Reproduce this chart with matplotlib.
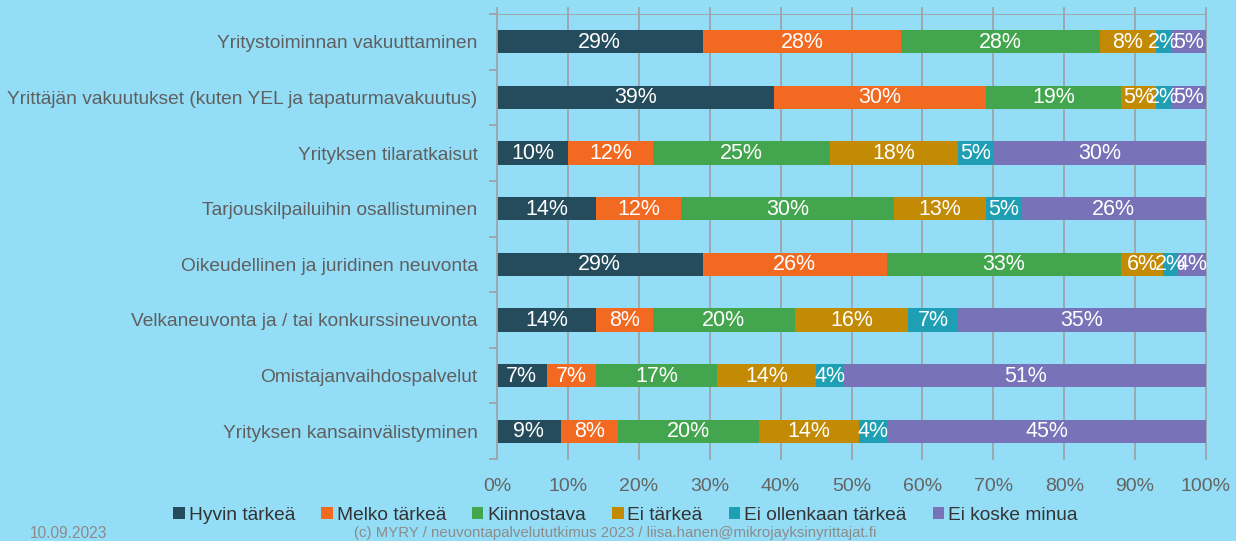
import matplotlib
matplotlib.use("Agg")
import matplotlib.pyplot as plt
import matplotlib.transforms as mtransforms
from matplotlib.patches import Patch
import numpy as np

categories = [
    "Yritystoiminnan vakuuttaminen",
    "Yrittäjän vakuutukset (kuten YEL ja tapaturmavakuutus)",
    "Yrityksen tilaratkaisut",
    "Tarjouskilpailuihin osallistuminen",
    "Oikeudellinen ja juridinen neuvonta",
    "Velkaneuvonta ja / tai konkurssineuvonta",
    "Omistajanvaihdospalvelut",
    "Yrityksen kansainvälistyminen",
]
series_names = ["Hyvin tärkeä", "Melko tärkeä", "Kiinnostava", "Ei tärkeä",
                "Ei ollenkaan tärkeä", "Ei koske minua"]
hyvin = [29, 39, 10, 14, 29, 14, 7, 9]
melko = [28, 30, 12, 12, 26, 8, 7, 8]
kiinnostava = [28, 19, 25, 30, 33, 20, 17, 20]
ei_tarkea = [8, 5, 18, 13, 6, 16, 14, 14]
ei_ollenkaan = [2, 2, 5, 5, 2, 7, 4, 4]
ei_koske = [5, 5, 30, 26, 4, 35, 51, 45]
series = [hyvin, melko, kiinnostava, ei_tarkea, ei_ollenkaan, ei_koske]
xticks = [0, 10, 20, 30, 40, 50, 60, 70, 80, 90, 100]
xticklabels = ["0%", "10%", "20%", "30%", "40%", "50%", "60%", "70%", "80%", "90%", "100%"]

colors = ["#244C5C", "#F26A22", "#43A64F", "#C38A04", "#1E9FB3", "#7872B8"]
bg = "#94DDF6"
grid_c = "#A0A4A8"
font = ["Liberation Sans", "DejaVu Sans"]

fig = plt.figure(figsize=(12.36, 5.41), dpi=100, facecolor=bg)
ax = fig.add_axes([497/1236, 1-459/541, (1206-497)/1236, (459-14)/541])
ax.set_facecolor(bg)

n = len(categories)
y = np.arange(n)
ax.set_ylim(n - 0.5, -0.5)
ax.set_xlim(0, 100)

left = np.zeros(n)
for vals, c in zip(series, colors):
    vals = np.array(vals, dtype=float)
    ax.barh(y, vals, left=left, height=0.42, color=c, zorder=3)
    for yi, (l, v) in enumerate(zip(left, vals)):
        ax.text(l + v/2, yi + 0.01, f"{int(v)}%", ha="center", va="center",
                color="white", fontsize=15.5, family=font, zorder=4)
    left += vals

# gridlines extending slightly above the plot
trans = mtransforms.blended_transform_factory(ax.transData, ax.transAxes)
ext = 6 / 445
for xv in xticks[1:]:
    ax.plot([xv, xv], [0, 1 + ext], transform=trans, color=grid_c, lw=1.3,
            zorder=1, clip_on=False)
ax.plot([0, 0], [-0.0, 1 + ext], transform=trans, color=grid_c, lw=1.3,
        zorder=5, clip_on=False)
ax.axhline(-0.5, color=grid_c, lw=1.3, zorder=1)

for s in ax.spines.values():
    s.set_visible(False)

ax.set_yticks(np.arange(n + 1) - 0.5)
ax.set_yticklabels([])
ax.tick_params(axis="y", which="major", length=6, color=grid_c, width=1.3)
ax.set_yticks(y, minor=True)
ax.set_yticklabels(categories, minor=True, fontsize=13.8, color="#5F5F5F", family=font)
ax.tick_params(axis="y", which="minor", length=0, pad=14)

ax.set_xticks(xticks)
ax.set_xticklabels(xticklabels, fontsize=14, color="#646464", family=font)
ax.tick_params(axis="x", length=0, pad=14)

handles = [Patch(facecolor=c, edgecolor="none") for c in colors]
fig.legend(handles, series_names, loc="center", bbox_to_anchor=(0.506, 0.048),
           ncol=6, frameon=False, handlelength=0.6, handleheight=0.6,
           handletextpad=0.2, columnspacing=1.36,
           prop={"family": font, "size": 13.8}, labelcolor="#333333")

foot_font = ["Liberation Sans Narrow", "Liberation Sans", "DejaVu Sans"]
fig.text(30/1236, 1-533/541, "10.09.2023", ha="left", va="center",
         fontsize=11.2, color="#8C8C8C", family=foot_font)
fig.text(615/1236, 1-533/541,
         "(c) MYRY / neuvontapalvelututkimus 2023 / liisa.hanen@mikrojayksinyrittajat.fi",
         ha="center", va="center", fontsize=10.8, color="#8C8C8C", family=foot_font)

fig.savefig("out.png", dpi=100, facecolor=bg)
